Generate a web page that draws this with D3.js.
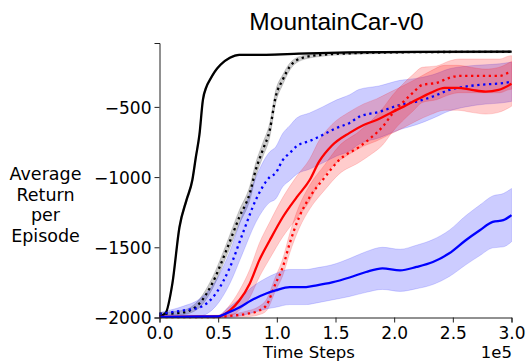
<!DOCTYPE html>
<html>
<head>
<meta charset="utf-8">
<script src="https://cdn.jsdelivr.net/npm/d3@7"></script>
<style>
  body { margin: 0; background: #fff; }
  svg { display: block; font-family: "DejaVu Sans", sans-serif; }
</style>
</head>
<body>
<div id="chart"></div>
<script>
// x values in units of 1e5 time steps
const xTicks = [0, 0.5, 1.0, 1.5, 2.0, 2.5, 3.0];
const yTicks = [-2000, -1500, -1000, -500];

const blackSolidX = [0, 0.05, 0.11, 0.17, 0.23, 0.28, 0.31, 0.34, 0.37, 0.40, 0.43, 0.47, 0.52, 0.60, 0.68, 0.91, 1.19, 1.62, 2.2, 3.0];
const blackSolidY = [-1990, -1971, -1757, -1357, -1164, -1021, -857, -700, -450, -357, -307, -250, -200, -150, -129, -129, -121, -112, -108, -107];
const blackSolidS = [5, 8, 15, 20, 20, 20, 20, 20, 18, 15, 12, 10, 8, 6, 5, 5, 4, 4, 3, 3];

const blackDotX = [0, 0.2, 0.34, 0.45, 0.57, 0.68, 0.77, 0.82, 0.88, 0.94, 0.99, 1.05, 1.11, 1.22, 1.39, 1.65, 2.2, 3.0];
const blackDotY = [-1975, -1964, -1900, -1757, -1521, -1286, -1114, -950, -807, -664, -429, -307, -214, -150, -129, -118, -110, -108];
const blackDotS = [10, 15, 30, 40, 45, 50, 50, 50, 50, 50, 45, 35, 25, 15, 10, 8, 6, 6];

const blueDotX = [0, 0.2, 0.34, 0.48, 0.60, 0.71, 0.82, 0.94, 0.99, 1.05, 1.11, 1.17, 1.28, 1.39, 1.51, 1.62, 1.70, 1.87, 2.05, 2.19, 2.33, 2.47, 2.61, 2.78, 2.90, 3.0];
const blueDotY = [-1975, -1950, -1929, -1829, -1643, -1400, -1164, -1000, -971, -879, -829, -779, -743, -700, -650, -614, -571, -536, -486, -462, -426, -379, -355, -340, -333, -321];
const blueDotS = [10, 30, 60, 90, 115, 140, 160, 180, 185, 190, 195, 200, 200, 200, 200, 200, 195, 185, 175, 165, 155, 150, 145, 140, 140, 140];

const redSolidX = [0, 0.5, 0.6, 0.68, 0.77, 0.85, 0.94, 1.05, 1.17, 1.28, 1.36, 1.47, 1.62, 1.74, 1.85, 1.97, 2.08, 2.19, 2.31, 2.43, 2.54, 2.66, 2.78, 2.89, 3.0];
const redSolidY = [-1995, -1993, -1950, -1879, -1757, -1593, -1450, -1286, -1143, -1021, -890, -775, -685, -629, -593, -543, -498, -450, -400, -364, -364, -379, -391, -379, -336];
const redSolidS = [5, 10, 40, 70, 100, 120, 130, 140, 150, 150, 150, 150, 150, 150, 150, 150, 150, 150, 155, 160, 160, 160, 160, 160, 160];

const redDotX = [0, 0.5, 0.6, 0.74, 0.85, 0.91, 0.99, 1.05, 1.11, 1.19, 1.28, 1.41, 1.53, 1.70, 1.81, 1.90, 1.99, 2.07, 2.16, 2.24, 2.36, 2.47, 2.56, 2.73, 2.90, 2.98, 3.0];
const redDotY = [-1998, -1997, -1988, -1975, -1950, -1914, -1757, -1643, -1471, -1286, -1143, -1000, -879, -786, -714, -643, -543, -471, -400, -343, -329, -293, -279, -279, -279, -257, -255];
const redDotS = [3, 5, 10, 20, 30, 40, 50, 60, 70, 80, 85, 90, 100, 110, 120, 130, 130, 130, 130, 125, 120, 120, 120, 120, 120, 120, 120];

const blueSolidX = [0, 0.5, 0.57, 0.68, 0.78, 0.91, 0.99, 1.11, 1.25, 1.34, 1.47, 1.62, 1.76, 1.90, 2.05, 2.19, 2.33, 2.47, 2.61, 2.73, 2.84, 2.93, 3.0];
const blueSolidY = [-1995, -1993, -1971, -1929, -1879, -1829, -1807, -1783, -1783, -1771, -1750, -1715, -1676, -1650, -1664, -1640, -1605, -1543, -1450, -1379, -1319, -1307, -1271];
const blueSolidS = [3, 5, 30, 60, 90, 110, 120, 125, 125, 125, 125, 135, 145, 150, 150, 155, 160, 165, 175, 180, 185, 190, 190];

const series = [
  {x: blackSolidX, y: blackSolidY, s: blackSolidS, color: "black", dotted: false},
  {x: blackDotX, y: blackDotY, s: blackDotS, color: "black", dotted: true},
  {x: blueDotX, y: blueDotY, s: blueDotS, color: "blue", dotted: true},
  {x: redSolidX, y: redSolidY, s: redSolidS, color: "red", dotted: false},
  {x: redDotX, y: redDotY, s: redDotS, color: "red", dotted: true},
  {x: blueSolidX, y: blueSolidY, s: blueSolidS, color: "blue", dotted: false}
];

const W = 529, H = 363;
const svg = d3.select("#chart").append("svg").attr("width", W).attr("height", H);

const xScale = d3.scaleLinear().domain([0, 3]).range([159.5, 511.5]);
const yScale = d3.scaleLinear().domain([-2000, -45]).range([317.5, 43]);

// bands
series.forEach(function(sr) {
  const pts = sr.x.map(function(v, i) { return {x: v, y: sr.y[i], s: sr.s[i]}; });
  const area = d3.area()
    .x(function(d) { return xScale(d.x); })
    .y0(function(d) { return yScale(Math.max(-2000, d.y - d.s)); })
    .y1(function(d) { return yScale(d.y + d.s); })
    .curve(d3.curveMonotoneX);
  svg.append("path")
    .datum(pts)
    .attr("d", area)
    .attr("fill", sr.color)
    .attr("fill-opacity", 0.2)
    .attr("stroke", sr.color)
    .attr("stroke-opacity", 0.15)
    .attr("stroke-width", 1);
});

// mean lines
series.forEach(function(sr) {
  const pts = sr.x.map(function(v, i) { return {x: v, y: sr.y[i]}; });
  const line = d3.line()
    .x(function(d) { return xScale(d.x); })
    .y(function(d) { return yScale(d.y); })
    .curve(d3.curveMonotoneX);
  svg.append("path")
    .datum(pts)
    .attr("d", line)
    .attr("fill", "none")
    .attr("stroke", sr.color)
    .attr("stroke-width", 2.3)
    .attr("stroke-linejoin", "round")
    .attr("stroke-dasharray", sr.dotted ? "2.3,3.6" : null);
});

// axes
const xAxis = svg.append("g")
  .attr("transform", "translate(0,317.5)")
  .call(d3.axisBottom(xScale).tickValues(xTicks).tickFormat(d3.format(".1f")).tickSize(5).tickPadding(4));
const yAxis = svg.append("g")
  .attr("transform", "translate(159.5,0)")
  .call(d3.axisLeft(yScale).tickValues(yTicks).tickFormat(function(d) { return "\u2212" + Math.abs(d); }).tickSize(5).tickPadding(3));

[xAxis, yAxis].forEach(function(g) {
  g.selectAll("text").style("font-family", "DejaVu Sans").style("font-size", "17px").attr("fill", "#000");
  g.selectAll("line").attr("stroke", "#222");
  g.select(".domain").attr("stroke", "#222");
});
xAxis.selectAll("text").attr("dy", "0.72em");
yAxis.selectAll("text").attr("dy", "0.36em");

// title
svg.append("text")
  .attr("x", 336.5).attr("y", 30)
  .attr("text-anchor", "middle")
  .style("font-family", "Liberation Sans, Arial, sans-serif")
  .style("font-size", "24.5px")
  .text("MountainCar-v0");

// x label and offset
svg.append("text")
  .attr("x", 309).attr("y", 358)
  .attr("text-anchor", "middle")
  .style("font-size", "16.5px")
  .text("Time Steps");
svg.append("text")
  .attr("x", 512).attr("y", 358)
  .attr("text-anchor", "end")
  .style("font-size", "16.5px")
  .text("1e5");

// y label
const yLabel = ["Average", "Return", "per", "Episode"];
svg.append("g").selectAll("text")
  .data(yLabel)
  .enter()
  .append("text")
  .attr("x", 45.5)
  .attr("y", function(d, i) { return 180 + i * 20.6; })
  .attr("text-anchor", "middle")
  .style("font-size", "17.5px")
  .text(function(d) { return d; });
</script>
</body>
</html>
